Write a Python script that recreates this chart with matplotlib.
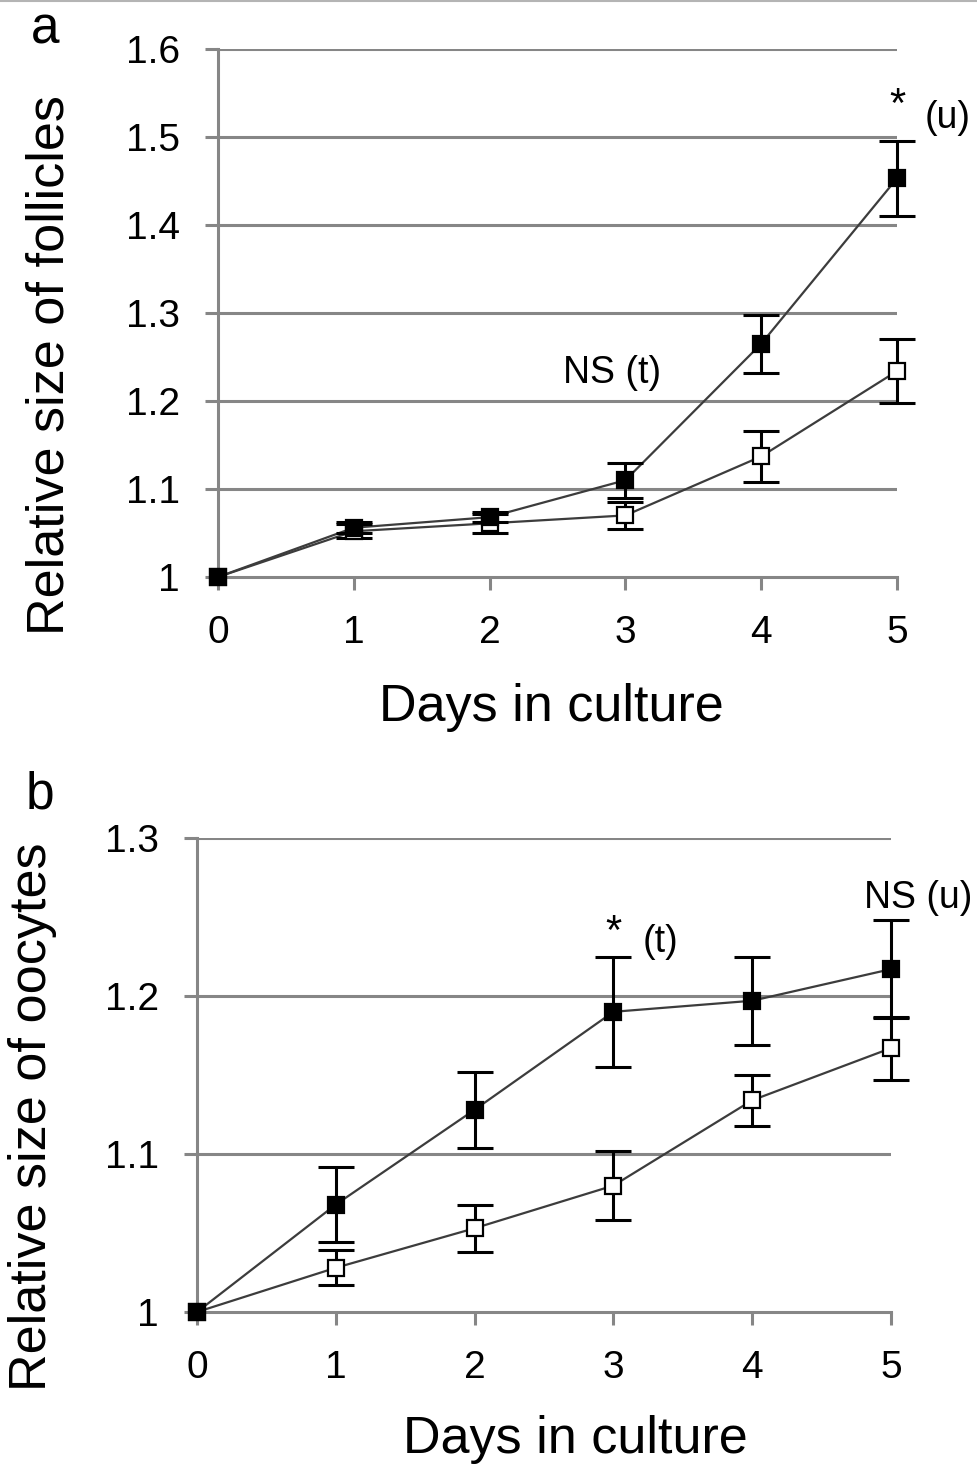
import numpy as np
import matplotlib
matplotlib.use("Agg")
import matplotlib.pyplot as plt
from matplotlib.lines import Line2D

plt.rcParams['font.family'] = ['Liberation Sans', 'DejaVu Sans']

days = [0, 1, 2, 3, 4, 5]

# panel a: follicles
foll_filled = [1.0, 1.056, 1.068, 1.110, 1.265, 1.453]
foll_filled_err = [0.0, 0.006, 0.006, 0.020, 0.033, 0.043]
foll_open = [1.0, 1.052, 1.061, 1.070, 1.137, 1.234]
foll_open_err = [0.0, 0.008, 0.011, 0.015, 0.029, 0.036]

# panel b: oocytes
ooc_filled = [1.0, 1.068, 1.128, 1.190, 1.197, 1.217]
ooc_filled_err = [0.0, 0.024, 0.024, 0.035, 0.028, 0.031]
ooc_open = [1.0, 1.028, 1.053, 1.080, 1.134, 1.167]
ooc_open_err = [0.0, 0.011, 0.015, 0.022, 0.016, 0.020]

foll_yticks = [1.0, 1.1, 1.2, 1.3, 1.4, 1.5, 1.6]
ooc_yticks = [1.0, 1.1, 1.2, 1.3]

GRID = "#868686"
LINE = "#3c3c3c"


def fmt(v):
    return "1" if abs(v - 1) < 1e-9 else f"{v:.1f}"


def draw_panel(ax, filled, filled_err, opn, opn_err, yticks):
    ax.set_xlim(0, 5)
    ax.set_ylim(yticks[0], yticks[-1])
    for spine in ("top", "right"):
        ax.spines[spine].set_visible(False)
    for spine in ("left", "bottom"):
        ax.spines[spine].set_color(GRID)
        ax.spines[spine].set_linewidth(2.2)
    for y in yticks[1:]:
        ax.axhline(y, color=GRID, lw=2.2, zorder=1)
    ax.set_xticks(days)
    ax.set_yticks(yticks)
    ax.set_yticklabels([fmt(v) for v in yticks])
    ax.tick_params(axis="both", direction="out", length=9.5, width=2.2,
                   color=GRID, labelsize=28, pad=18)

    for vals, errs, face in ((opn, opn_err, "white"), (filled, filled_err, "black")):
        ax.plot(days, vals, color=LINE, lw=1.6, zorder=3, clip_on=False)
        ax.errorbar(days[1:], vals[1:], yerr=errs[1:], fmt="none", ecolor="black",
                    elinewidth=2.2, capsize=13, capthick=2.2, zorder=4, clip_on=False)
        ax.plot(days, vals, ls="none", marker="s", ms=11.5, mfc=face, mec="black",
                mew=1.6, zorder=5, clip_on=False)


fig = plt.figure(figsize=(9.78, 14.67), dpi=100)

ax_a = fig.add_axes([218 / 978, 1 - 577 / 1467, (897 - 218) / 978, (577 - 49) / 1467])
draw_panel(ax_a, foll_filled, foll_filled_err, foll_open, foll_open_err, foll_yticks)
ax_a.text(5.0, 1.535, "*", fontsize=30, ha="center", va="center")
ax_a.text(5.376, 1.522, "(u)", fontsize=27, ha="center", va="center", clip_on=False)
ax_a.text(2.90, 1.232, "NS (t)", fontsize=27, ha="center", va="center")

ax_b = fig.add_axes([197 / 978, 1 - 1312 / 1467, (891 - 197) / 978, (1312 - 838) / 1467])
draw_panel(ax_b, ooc_filled, ooc_filled_err, ooc_open, ooc_open_err, ooc_yticks)
ax_b.text(3.0, 1.240, "*", fontsize=30, ha="center", va="center")
ax_b.text(3.336, 1.234, "(t)", fontsize=27, ha="center", va="center")
ax_b.text(5.195, 1.262, "NS (u)", fontsize=27, ha="center", va="center", clip_on=False)

# axis titles and panel letters
fig.text(50 / 978, 1 - 365 / 1467, "Relative size of follicles", rotation=90,
         fontsize=37.5, ha="center", va="center")
fig.text(551 / 978, 1 - 707 / 1467, "Days in culture", fontsize=37.5,
         ha="center", va="center")
fig.text(33 / 978, 1 - 1117 / 1467, "Relative size of oocytes", rotation=90,
         fontsize=37.5, ha="center", va="center")
fig.text(575 / 978, 1 - 1440 / 1467, "Days in culture", fontsize=37.5,
         ha="center", va="center")
fig.text(45 / 978, 1 - 30 / 1467, "a", fontsize=37, ha="center", va="center")
fig.text(40 / 978, 1 - 795 / 1467, "b", fontsize=37, ha="center", va="center")

fig.add_artist(Line2D([0, 1], [0.9995, 0.9995], color="#b4b4b4", lw=1.5))

fig.savefig("out.png", dpi=100)
